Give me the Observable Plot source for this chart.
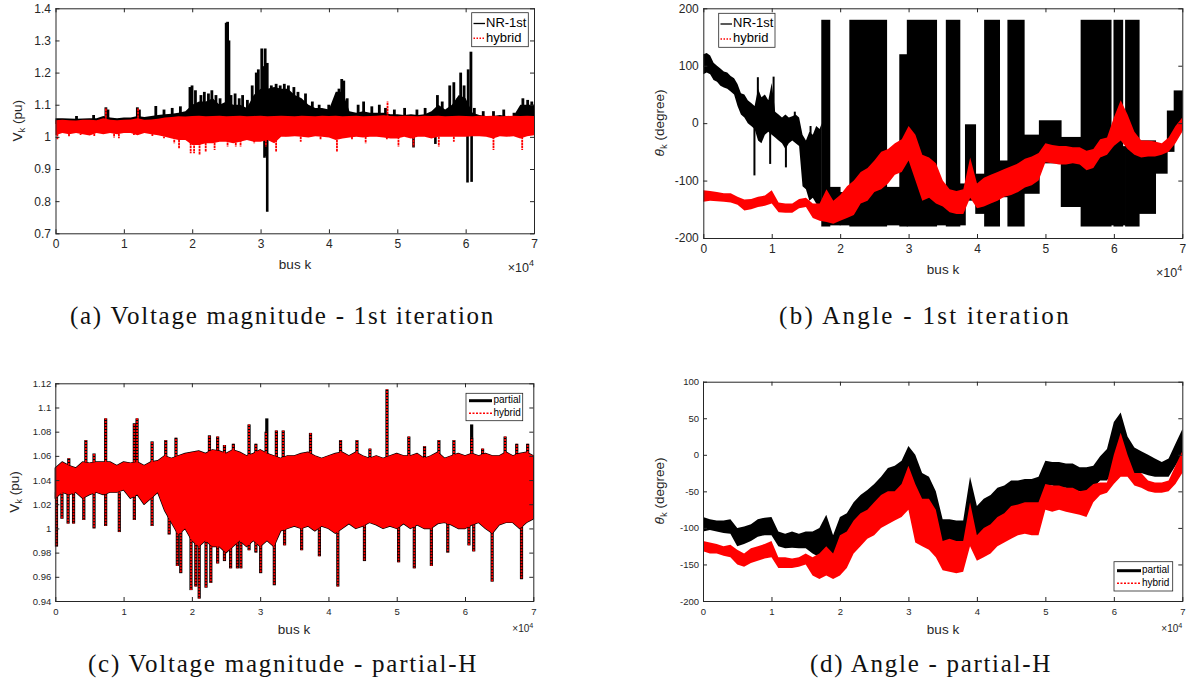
<!DOCTYPE html>
<html><head><meta charset="utf-8">
<script src="https://cdn.jsdelivr.net/npm/d3@7"></script>
<script src="https://cdn.jsdelivr.net/npm/@observablehq/plot@0.6"></script>
<style>
html,body{margin:0;padding:0;background:#fff;}
#fig{position:relative;width:1194px;height:688px;overflow:hidden;background:#fff;}
#fig svg{position:absolute;}
</style></head><body><div id="fig"></div>
<script>
// ---------- shared axes ----------
const xTicks = [0, 10000, 20000, 30000, 40000, 50000, 60000, 70000];
const bus = Array.from({length: 71}, (_, i) => i * 1000); // sample positions (bus index)

// ---------- (a) Voltage magnitude - 1st iteration ----------
const aYTicks = [0.7, 0.8, 0.9, 1.0, 1.1, 1.2, 1.3, 1.4];
const aNR_hi = [1.058,1.058,1.057,1.056,1.057,1.058,1.058,1.065,1.06,1.058,
  1.06,1.06,1.065,1.062,1.065,1.068,1.07,1.072,1.075,1.08,
  1.10,1.11,1.11,1.12,1.10,1.11,1.10,1.10,1.09,1.13,
  1.15,1.15,1.155,1.15,1.15,1.13,1.12,1.10,1.09,1.09,
  1.085,1.14,1.14,1.08,1.075,1.08,1.075,1.075,1.075,1.07,
  1.07,1.068,1.07,1.068,1.07,1.08,1.10,1.085,1.10,1.13,
  1.12,1.075,1.068,1.065,1.065,1.068,1.065,1.065,1.10,1.10,1.10];
const aNR_lo = [1.04,1.04,1.04,1.04,1.04,1.04,1.04,1.04,1.04,1.04,
  1.04,1.04,1.04,1.04,1.04,1.035,1.03,1.03,1.03,1.03,
  1.02,1.02,1.02,1.02,1.02,1.02,1.02,1.02,1.02,1.02,
  1.01,1.02,1.02,1.02,1.025,1.03,1.03,1.03,1.03,1.03,
  1.03,1.03,1.03,1.03,1.03,1.03,1.03,1.03,1.03,1.03,
  1.03,1.03,1.03,1.03,1.03,1.03,1.03,1.03,1.03,1.03,
  1.02,1.03,1.03,1.03,1.03,1.03,1.03,1.03,1.03,1.03,1.03];
const aNR_up = [[3000,1.065],[5500,1.068],[7300,1.092],[7600,1.085],[11900,1.092],[12200,1.085],[14600,1.096],[15800,1.085],[17000,1.09],[18200,1.095],[19600,1.155],[19900,1.16],[20400,1.145],[21200,1.13],[21700,1.14],[22300,1.135],[22800,1.145],[23400,1.13],[24000,1.12],[24900,1.355],[25100,1.358],[25300,1.30],[25600,1.13],[26200,1.135],[26800,1.12],[27300,1.13],[28000,1.115],[28700,1.16],[29300,1.20],[29600,1.21],[30100,1.275],[30400,1.22],[30600,1.275],[30900,1.23],[31500,1.16],[32200,1.165],[32800,1.16],[33400,1.165],[34000,1.16],[34800,1.155],[35400,1.14],[36500,1.135],[37500,1.11],[38500,1.10],[39900,1.10],[41400,1.15],[41800,1.18],[42100,1.175],[42600,1.12],[44200,1.10],[45000,1.11],[46200,1.095],[47300,1.10],[48200,1.09],[49500,1.085],[51000,1.09],[52800,1.085],[54000,1.09],[55800,1.13],[56500,1.11],[57600,1.16],[58200,1.17],[58800,1.12],[59200,1.20],[59700,1.16],[60300,1.21],[60700,1.265],[61200,1.09],[62500,1.08],[64000,1.08],[65500,1.085],[67000,1.075],[68300,1.12],[69000,1.115],[69600,1.11]];
const aNR_down = [[30500,0.935],[30700,0.94],[30900,0.767],[52300,0.967],[55500,0.978],[60200,0.858],[60800,0.86]];
const aHyb_hi = [1.052,1.053,1.052,1.051,1.053,1.053,1.052,1.058,1.053,1.052,
  1.053,1.054,1.058,1.053,1.054,1.056,1.06,1.062,1.064,1.063,
  1.065,1.066,1.064,1.065,1.066,1.064,1.065,1.066,1.064,1.065,
  1.066,1.064,1.065,1.066,1.065,1.064,1.066,1.065,1.064,1.066,
  1.065,1.066,1.064,1.065,1.066,1.064,1.065,1.066,1.067,1.065,
  1.064,1.066,1.065,1.064,1.066,1.065,1.066,1.064,1.065,1.066,
  1.065,1.064,1.066,1.065,1.066,1.064,1.065,1.066,1.065,1.066,1.065];
const aHyb_lo = [1.005,1.012,1.008,1.012,1.008,1.004,1.012,1.008,1.012,1.008,
  1.012,1.012,1.005,1.012,1.008,1.005,1.0,0.995,0.99,0.99,
  0.975,0.975,0.98,0.98,0.985,0.985,0.98,0.985,0.99,0.985,
  0.985,0.99,0.98,1.0,1.0,1.002,1.0,0.998,1.002,1.0,
  0.998,0.99,0.995,0.998,1.0,0.998,1.0,1.0,0.998,0.995,
  0.995,1.0,0.995,1.0,1.0,0.995,1.0,1.0,1.0,1.0,
  1.0,1.002,1.002,1.0,0.995,1.002,1.0,1.002,0.995,1.002,1.005];
const aHyb_dips = [[200,0.99],[1900,1.0],[3600,1.006],[5600,1.001],[8500,0.998],[9200,0.996],[11400,1.006],[14100,1.001],[15800,0.996],[17300,0.98],[18000,0.964],[19700,0.949],[20200,0.949],[21000,0.944],[21900,0.954],[23200,0.959],[25100,0.97],[26300,0.97],[27000,0.97],[29000,0.98],[30700,0.97],[32200,0.954],[33600,1.0],[35800,0.985],[38700,0.99],[41100,0.954],[43300,0.99],[45300,0.98],[48400,0.99],[50100,0.97],[52300,0.97],[56000,0.97],[58200,0.985],[64000,0.959],[68200,0.959]];
const aHyb_up = [[7300,1.09],[12000,1.09],[48500,1.11]];

// ---------- (b) Angle - 1st iteration ----------
const bYTicks = [-200, -100, 0, 100, 200];
// NR-1st, continuous band before the wrap-around region: [bus, low, high]
const bNR_band = [[0,85,120],[500,88,122],[1000,85,118],[1500,75,105],[2000,72,100],[2500,65,95],[3000,62,90],[3500,60,88],[4000,55,82],[4500,50,78],[5000,30,68],[5500,15,52],[6000,10,50],[6500,0,40],[7000,-5,35],[7500,-10,30],[8000,-30,60],[8500,-35,45],[9000,-20,50],[9500,-15,40],[10000,-20,70],[10500,-25,20],[11000,-30,15],[11500,-35,10],[12000,-45,15],[12500,-35,10],[13000,-30,12],[13500,-35,15],[14000,-40,10],[14500,-110,-20],[15000,-115,-30],[15500,-135,-15],[16000,-130,-20],[16500,-140,-5],[17000,-145,-10],[17300,-145,0]];
// NR-1st, wrap-around region: [bus from, bus to, low, high]
const bNR_seg = [[17300,18500,-180,180],[18500,20000,-178,-111],[20000,21400,-178,-120],[21400,26800,-180,180],[26800,28700,-178,-111],[28700,29800,-180,120],[29800,34100,-180,180],[34100,35500,-178,-130],[35500,37500,-180,180],[37500,38300,-178,-105],[38300,39800,-135,-2],[39800,41100,-158,-88],[41100,43300,-180,180],[43300,44500,-129,-65],[44500,46900,-180,180],[46900,49100,-123,-20],[49100,52300,-70,5],[52300,55200,-146,-24],[55200,59600,-180,180],[59600,60000,-178,-40],[60000,61300,-180,180],[61300,61700,-178,-40],[61700,63700,-180,180],[63700,66100,-158,-30],[66100,67800,-88,-42],[67800,68800,-50,22],[68800,70000,-13,57]];
const bNR_spikes = [[7400,0,-91],[7900,20,80],[9700,-10,-71],[10200,20,81],[12000,-20,-77],[13300,0,20],[15600,-60,-5]];
const bHyb_hi = [-117,-118,-120,-122,-122,-128,-133,-132,-128,-126,
  -117,-138,-140,-140,-132,-130,-140,-140,-115,-135,
  -125,-110,-100,-85,-78,-65,-50,-45,-35,-28,
  -5,-20,-55,-60,-70,-100,-115,-118,-115,-60,
  -105,-95,-90,-85,-80,-75,-70,-62,-58,-52,
  -35,-38,-40,-40,-42,-42,-48,-45,-28,-25,
  10,40,15,-15,-30,-30,-32,-35,-25,-5,10];
const bHyb_lo = [-137,-135,-136,-137,-138,-142,-152,-150,-146,-144,
  -140,-155,-156,-156,-148,-146,-165,-170,-172,-175,
  -170,-165,-160,-140,-135,-120,-115,-105,-90,-85,
  -65,-100,-135,-130,-140,-145,-155,-158,-158,-130,
  -148,-145,-140,-135,-128,-125,-120,-112,-108,-100,
  -68,-70,-72,-72,-70,-72,-82,-78,-60,-55,
  -40,-30,-45,-55,-60,-58,-58,-55,-50,-35,-15];

// ---------- (c) Voltage magnitude - partial-H ----------
const cYTicks = [0.94, 0.96, 0.98, 1.0, 1.02, 1.04, 1.06, 1.08, 1.1, 1.12];
const cPart_hi = [1.05,1.055,1.052,1.05,1.055,1.054,1.055,1.055,1.055,1.052,
  1.055,1.054,1.055,1.052,1.055,1.056,1.06,1.058,1.06,1.062,
  1.063,1.064,1.062,1.065,1.064,1.062,1.065,1.063,1.06,1.062,
  1.065,1.062,1.06,1.058,1.06,1.06,1.062,1.063,1.06,1.058,
  1.06,1.062,1.063,1.06,1.063,1.06,1.058,1.06,1.058,1.06,
  1.062,1.06,1.06,1.062,1.058,1.06,1.063,1.058,1.06,1.062,
  1.06,1.062,1.06,1.062,1.06,1.06,1.063,1.06,1.062,1.063,1.06];
const cPart_lo = [1.025,1.03,1.028,1.03,1.025,1.028,1.03,1.028,1.03,1.03,
  1.032,1.025,1.028,1.02,1.025,1.03,1.015,1.005,0.995,1.0,
  0.99,0.985,0.99,0.985,0.985,0.98,0.985,0.99,0.985,0.99,
  0.985,0.99,0.985,0.998,1.0,1.002,1.0,1.002,0.998,1.002,
  1.0,0.996,1.0,1.004,1.0,1.002,1.005,1.003,1.0,1.002,
  1.0,1.004,1.0,1.003,1.0,1.0,1.004,1.005,1.003,1.0,
  1.0,1.003,1.005,1.0,0.996,1.003,1.005,1.005,1.0,1.005,1.008];
// hybrid envelope is indistinguishable from partial at this scale
const cHyb_hi = cPart_hi;
const cHyb_lo = cPart_lo;
const cUp = [[1900,1.058],[4400,1.073],[5600,1.062],[7300,1.091],[11500,1.087],[11900,1.091],[14100,1.072],[16100,1.073],[17600,1.075],[22500,1.077],[23700,1.076],[24700,1.069],[26000,1.07],[28300,1.086],[29300,1.07],[30800,1.08],[32300,1.081],[33300,1.081],[37300,1.079],[41700,1.073],[44100,1.073],[46000,1.066],[48500,1.115],[51700,1.076],[54000,1.068],[56100,1.073],[58300,1.073],[60900,1.075],[62500,1.066],[65800,1.076],[67500,1.07],[69100,1.07]];
const cPartUpExtra = [[30900,1.091],[60900,1.086]];
const cDown = [[100,0.985],[900,1.008],[1800,1.004],[2600,1.004],[4100,1.007],[5600,1.0],[7300,1.002],[9300,0.997],[11500,1.007],[14100,1.002],[16600,0.995],[17800,0.969],[18300,0.963],[19800,0.949],[20500,0.952],[21000,0.942],[22000,0.951],[22700,0.955],[23700,0.971],[24700,0.973],[25600,0.967],[26600,0.967],[27100,0.967],[28300,0.982],[29300,0.98],[30000,0.963],[32000,0.953],[33500,0.986],[36000,0.982],[38600,0.977],[41300,0.952],[45200,0.973],[50200,0.972],[52500,0.967],[55000,0.969],[57400,0.98],[60500,0.986],[61200,0.981],[63900,0.956],[68200,0.958]];

// ---------- (d) Angle - partial-H ----------
const dYTicks = [-200, -150, -100, -50, 0, 50, 100];
const dPart_hi = [-85,-88,-90,-90,-88,-100,-98,-95,-88,-86,
  -85,-105,-108,-105,-108,-105,-105,-100,-82,-110,
  -85,-80,-65,-55,-48,-40,-30,-18,-15,-8,
  12,0,-25,-30,-50,-88,-88,-90,-90,-30,
  -70,-60,-55,-45,-42,-35,-35,-33,-33,-30,
  -8,-10,-10,-12,-12,-17,-17,-15,-2,8,
  45,58,25,10,5,0,-5,-10,-5,15,35];
const dPart_lo = [-105,-103,-105,-107,-108,-125,-122,-118,-112,-110,
  -110,-125,-128,-127,-128,-128,-135,-140,-130,-145,
  -130,-125,-110,-105,-100,-90,-80,-70,-65,-60,
  -45,-60,-85,-95,-110,-120,-120,-122,-120,-95,
  -115,-110,-105,-95,-90,-85,-80,-78,-80,-80,
  -42,-42,-45,-45,-48,-50,-55,-45,-35,-35,
  -20,-10,-20,-25,-25,-28,-30,-30,-30,-15,0];
const dHyb_hi = [-118,-120,-122,-125,-123,-130,-135,-128,-125,-122,
  -118,-140,-140,-142,-140,-135,-140,-135,-125,-135,
  -110,-105,-90,-80,-75,-65,-55,-50,-50,-40,
  -15,-40,-60,-60,-75,-118,-115,-118,-118,-65,
  -110,-100,-95,-85,-80,-70,-68,-65,-65,-65,
  -40,-42,-42,-45,-45,-50,-48,-40,-38,-38,
  0,30,0,-25,-25,-35,-38,-38,-35,-15,5];
const dHyb_lo = [-132,-135,-135,-138,-140,-150,-153,-148,-145,-142,
  -140,-155,-155,-155,-153,-150,-165,-170,-165,-170,
  -165,-155,-135,-125,-115,-110,-100,-95,-90,-85,
  -75,-120,-125,-130,-140,-158,-160,-162,-160,-125,
  -145,-140,-135,-125,-120,-115,-110,-108,-110,-110,
  -75,-78,-75,-78,-80,-82,-85,-65,-55,-52,
  -40,-30,-30,-42,-45,-50,-52,-52,-50,-40,-25];

// ---------- helpers ----------
const AX = "#262626";
const BLACK = "#000000";
const RED = "#ff0000";
const FONT = "'Liberation Sans', Arial, Helvetica, sans-serif";
const SERIF = "'Liberation Serif', 'Times New Roman', serif";
const table = (lo, hi) => bus.map((x, i) => ({x, lo: lo[i], hi: hi[i]}));
const fmtV = d => String(+d.toFixed(2));
const fmtA = d => String(d);

function makePanel(o) {
  const pw = o.width - o.ml - o.mr, ph = o.height - o.mt - o.mb;
  const svg = Plot.plot({
    width: o.width, height: o.height,
    marginTop: o.mt, marginRight: o.mr, marginBottom: o.mb, marginLeft: o.ml,
    style: {fontFamily: FONT, fontSize: o.tickFont + "px", color: AX, background: "none", overflow: "visible"},
    x: {domain: [0, 70000], label: null},
    y: {domain: o.ydom, label: null},
    marks: [
      ...o.marks,
      Plot.frame({stroke: AX, strokeWidth: 1}),
      Plot.tickX(xTicks, {x: d => d, insetTop: ph - 4, stroke: AX}),
      Plot.tickX(xTicks, {x: d => d, insetBottom: ph - 4, stroke: AX}),
      Plot.tickY(o.yticks, {y: d => d, insetRight: pw - 4, stroke: AX}),
      Plot.tickY(o.yticks, {y: d => d, insetLeft: pw - 4, stroke: AX}),
      Plot.axisX({ticks: xTicks, tickFormat: d => String(d / 10000), tickSize: 0, tickPadding: o.xpad, label: null, fill: AX}),
      Plot.axisY({ticks: o.yticks, tickFormat: o.yfmt, tickSize: 0, tickPadding: o.ypad, label: null, fill: AX})
    ]
  });
  svg.style.left = o.left + "px";
  svg.style.top = o.top + "px";
  document.getElementById("fig").appendChild(svg);
  const g = d3.select(svg).append("g").attr("text-anchor", "start");
  // y label with subscript
  const t = g.append("text").attr("transform", `translate(${o.yl[0]},${o.yl[1]}) rotate(-90)`)
    .attr("text-anchor", "middle").attr("dominant-baseline", "middle")
    .attr("font-family", FONT).attr("font-size", 13.5).attr("fill", AX);
  t.append("tspan").attr("font-style", o.ylItalic ? "italic" : null).text(o.ylabel[0]);
  t.append("tspan").attr("font-size", 9.5).attr("dy", 4).text("k");
  t.append("tspan").attr("dy", -4).text("\u00a0" + o.ylabel[1]);
  // x label
  g.append("text").attr("x", o.xl[0]).attr("y", o.xl[1]).attr("text-anchor", "middle")
    .attr("dominant-baseline", "middle").attr("font-family", FONT).attr("font-size", 13.5)
    .attr("fill", AX).text("bus k");
  // exponent
  const e = g.append("text").attr("x", o.ex[0]).attr("y", o.ex[1]).attr("text-anchor", "end")
    .attr("font-family", FONT).attr("font-size", o.exFont).attr("fill", AX);
  e.append("tspan").text("\u00d710");
  e.append("tspan").attr("font-size", o.exFont * 0.72).attr("dy", -o.exFont * 0.45).text("4");
  // legend
  const L = o.legend;
  g.append("rect").attr("x", L.x).attr("y", L.y).attr("width", L.w).attr("height", L.h)
    .attr("fill", "#fff").attr("stroke", AX).attr("stroke-width", 0.8);
  for (const r of L.rows) {
    g.append("line").attr("x1", L.lx1).attr("x2", L.lx2).attr("y1", r.y).attr("y2", r.y)
      .attr("stroke", r.stroke).attr("stroke-width", r.sw).attr("stroke-dasharray", r.dash || null);
    g.append("text").attr("x", L.tx).attr("y", r.y).attr("dominant-baseline", "middle")
      .attr("text-anchor", "start")
      .attr("font-family", FONT).attr("font-size", L.fs).attr("fill", "#000").text(r.label);
  }
  return svg;
}

// ---------- panel (a) ----------
makePanel({
  left: 0, top: 0, width: 560, height: 290, mt: 8.3, mr: 26, mb: 56.7, ml: 55.5,
  ydom: [0.7, 1.4], yticks: aYTicks, yfmt: fmtV, tickFont: 12, xpad: 6, ypad: 5,
  marks: [
    Plot.areaY(table(aNR_lo, aNR_hi), {x: "x", y1: "lo", y2: "hi", fill: BLACK}),
    Plot.ruleX(aNR_up, {x: d => d[0], y1: () => 1.05, y2: d => d[1], stroke: BLACK, strokeWidth: 2.8}),
    Plot.ruleX(aNR_down, {x: d => d[0], y1: () => 1.03, y2: d => d[1], stroke: BLACK, strokeWidth: 2.6}),
    Plot.areaY(table(aHyb_lo, aHyb_hi), {x: "x", y1: "lo", y2: "hi", fill: RED}),
    Plot.ruleX(aHyb_dips, {x: d => d[0], y1: () => 1.03, y2: d => d[1], stroke: RED, strokeWidth: 1.8, strokeDasharray: "2.5,0.6"}),
    Plot.ruleX(aHyb_up, {x: d => d[0], y1: () => 1.05, y2: d => d[1], stroke: RED, strokeWidth: 1.8, strokeDasharray: "2.5,0.6"})
  ],
  yl: [18, 120.8], ylabel: ["V", "(pu)"], xl: [295, 265], ex: [534, 272], exFont: 12.5,
  legend: {x: 471.7, y: 12.7, w: 56.6, h: 34, lx1: 473.5, lx2: 485, tx: 486, fs: 13,
    rows: [{label: "NR-1st", y: 23.5, stroke: BLACK, sw: 1.3}, {label: "hybrid", y: 38.3, stroke: RED, sw: 1.5, dash: "1.5,1.5"}]}
});

// ---------- panel (b) ----------
makePanel({
  left: 640, top: 0, width: 554, height: 290, mt: 8.3, mr: 11.7, mb: 52, ml: 63.3,
  ydom: [-200, 200], yticks: bYTicks, yfmt: fmtA, tickFont: 12, xpad: 6, ypad: 5,
  marks: [
    Plot.areaY(bNR_band, {x: d => d[0], y1: d => d[1], y2: d => d[2], fill: BLACK}),
    Plot.rect(bNR_seg, {x1: d => d[0], x2: d => d[1], y1: d => d[2], y2: d => d[3], fill: BLACK, insetLeft: -0.4, insetRight: -0.4}),
    Plot.ruleX(bNR_spikes, {x: d => d[0], y1: d => d[1], y2: d => d[2], stroke: BLACK, strokeWidth: 2}),
    Plot.areaY(table(bHyb_lo, bHyb_hi), {x: "x", y1: "lo", y2: "hi", fill: RED})
  ],
  yl: [20, 123], ylabel: ["\u03b8", "(degree)"], ylItalic: true, xl: [303, 270], ex: [542.3, 277], exFont: 12.5,
  legend: {x: 78.7, y: 13.3, w: 56.3, h: 34, lx1: 80.5, lx2: 92, tx: 93, fs: 13,
    rows: [{label: "NR-1st", y: 24, stroke: BLACK, sw: 1.3}, {label: "hybrid", y: 39, stroke: RED, sw: 1.5, dash: "1.5,1.5"}]}
});

// ---------- panel (c) ----------
makePanel({
  left: 0, top: 370, width: 560, height: 275, mt: 13.3, mr: 26.7, mb: 44, ml: 55.3,
  ydom: [0.94, 1.12], yticks: cYTicks, yfmt: fmtV, tickFont: 9.5, xpad: 7, ypad: 4.5,
  marks: [
    Plot.areaY(table(cPart_lo, cPart_hi), {x: "x", y1: "lo", y2: "hi", fill: BLACK, stroke: BLACK, strokeWidth: 1.4}),
    Plot.ruleX(cUp.concat(cPartUpExtra), {x: d => d[0], y1: () => 1.045, y2: d => d[1], stroke: BLACK, strokeWidth: 3.2}),
    Plot.ruleX(cDown, {x: d => d[0], y1: () => 1.03, y2: d => d[1], stroke: BLACK, strokeWidth: 3.2}),
    Plot.areaY(table(cHyb_lo, cHyb_hi), {x: "x", y1: "lo", y2: "hi", fill: RED}),
    Plot.ruleX(cUp, {x: d => d[0], y1: () => 1.045, y2: d => d[1], stroke: RED, strokeWidth: 1.8, strokeDasharray: "2,1"}),
    Plot.ruleX(cDown, {x: d => d[0], y1: () => 1.03, y2: d => d[1], stroke: RED, strokeWidth: 1.8, strokeDasharray: "2,1"})
  ],
  yl: [15, 122], ylabel: ["V", "(pu)"], xl: [294, 260], ex: [533.3, 262], exFont: 10,
  legend: {x: 466, y: 23.3, w: 56.7, h: 27.4, lx1: 469, lx2: 492, tx: 493.5, fs: 10,
    rows: [{label: "partial", y: 30.7, stroke: BLACK, sw: 3}, {label: "hybrid", y: 43.3, stroke: RED, sw: 1.5, dash: "2,1.5"}]}
});

// ---------- panel (d) ----------
makePanel({
  left: 640, top: 370, width: 554, height: 275, mt: 11.7, mr: 11.7, mb: 44, ml: 63,
  ydom: [-200, 100], yticks: dYTicks, yfmt: fmtA, tickFont: 9.5, xpad: 7, ypad: 4.5,
  marks: [
    Plot.areaY(table(dPart_lo, dPart_hi), {x: "x", y1: "lo", y2: "hi", fill: BLACK}),
    Plot.areaY(table(dHyb_lo, dHyb_hi), {x: "x", y1: "lo", y2: "hi", fill: RED})
  ],
  yl: [20, 121], ylabel: ["\u03b8", "(degree)"], ylItalic: true, xl: [303, 260], ex: [542.3, 262], exFont: 10,
  legend: {x: 474, y: 191.7, w: 58.7, h: 29.3, lx1: 477, lx2: 501, tx: 502, fs: 10,
    rows: [{label: "partial", y: 200.7, stroke: BLACK, sw: 3}, {label: "hybrid", y: 213.3, stroke: RED, sw: 1.5, dash: "2,1.5"}]}
});

// ---------- captions ----------
const captions = [
  {text: "(a) Voltage magnitude - 1st iteration", x: 282.5, y: 318, len: 425},
  {text: "(b) Angle - 1st iteration", x: 925, y: 318, len: 292},
  {text: "(c) Voltage magnitude - partial-H", x: 283, y: 666, len: 390},
  {text: "(d) Angle - partial-H", x: 931, y: 666, len: 242}
];
const cap = d3.select("#fig").append("svg").attr("width", 1194).attr("height", 688)
  .style("left", "0px").style("top", "0px").style("pointer-events", "none");
cap.selectAll("text").data(captions).join("text")
  .attr("x", d => d.x).attr("y", d => d.y).attr("text-anchor", "middle")
  .attr("dominant-baseline", "middle").attr("font-family", SERIF).attr("font-size", 25)
  .attr("fill", "#111").text(d => d.text)
  .each(function(d) {
    const natural = this.getComputedTextLength();
    const ls = Math.max(0, (d.len - natural) / d.text.length);
    this.setAttribute("letter-spacing", ls.toFixed(2));
  });
</script></body></html>
